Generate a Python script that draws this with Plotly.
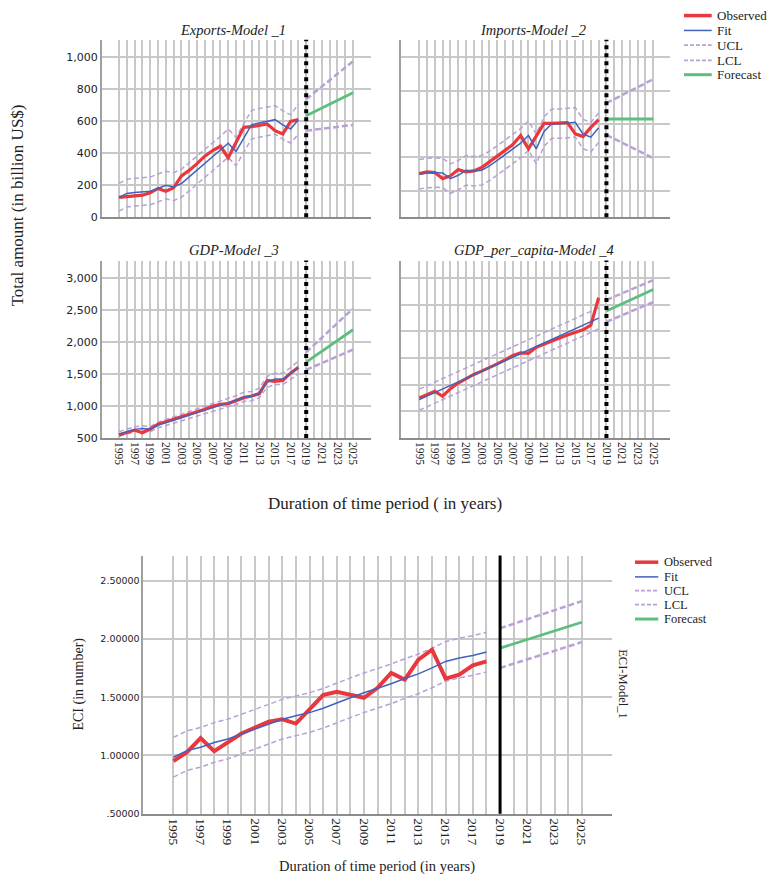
import plotly.graph_objects as go

# ---------------- data ----------------
YEARS_HIST = list(range(1995, 2019))
YEARS_FC = list(range(2019, 2026))
YEAR_TICKS = list(range(1995, 2026))
YEAR_TICK_TEXT = [str(y) if y % 2 == 1 else "" for y in YEAR_TICKS]
FORECAST_START = 2019

exports_obs = [124, 128, 132, 138, 153, 180, 163, 184, 258, 293, 335, 382, 417, 444, 372, 465, 562, 566, 572, 583, 541, 521, 599, 610]
exports_fit = [124, 149, 155, 159, 163, 180, 200, 190, 211, 252, 293, 339, 380, 417, 463, 411, 494, 579, 589, 599, 610, 577, 552, 610]
exports_ucl = [212, 237, 243, 247, 251, 270, 288, 279, 300, 341, 382, 428, 468, 506, 552, 500, 585, 668, 680, 690, 698, 665, 640, 706]
exports_lcl = [38, 64, 70, 74, 78, 95, 115, 104, 125, 165, 206, 252, 292, 328, 375, 322, 404, 490, 500, 510, 520, 488, 464, 520]
exports_fc = [634, 658, 682, 706, 731, 755, 779]
exports_fc_ucl = [738, 778, 817, 857, 896, 936, 975]
exports_fc_lcl = [541, 547, 553, 559, 565, 571, 577]

imports_obs = [303, 313, 309, 273, 289, 327, 313, 319, 339, 372, 406, 442, 477, 531, 451, 531, 604, 604, 604, 608, 541, 525, 580, 626]
imports_fit = [299, 307, 309, 307, 273, 293, 323, 317, 323, 349, 382, 418, 451, 485, 531, 451, 555, 602, 602, 606, 610, 540, 521, 578]
imports_ucl = [387, 395, 397, 395, 361, 381, 411, 405, 411, 437, 470, 506, 539, 573, 619, 539, 643, 690, 690, 694, 698, 628, 609, 666]
imports_lcl = [211, 219, 221, 219, 185, 205, 235, 229, 235, 261, 294, 330, 363, 397, 443, 363, 467, 514, 514, 518, 522, 452, 433, 490]
imports_fc = [630, 630, 630, 630, 630, 630, 630]
imports_fc_ucl = [725, 749, 773, 797, 820, 844, 868]
imports_fc_lcl = [535, 512, 489, 466, 442, 419, 396]

gdp_obs = [547, 588, 624, 583, 640, 717, 754, 790, 831, 867, 909, 950, 997, 1028, 1038, 1080, 1131, 1157, 1194, 1400, 1385, 1400, 1514, 1608]
gdp_fit = [562, 598, 635, 650, 635, 702, 738, 769, 816, 857, 893, 935, 976, 1012, 1049, 1090, 1142, 1152, 1204, 1375, 1421, 1421, 1504, 1597]
gdp_ucl = [599, 637, 676, 692, 676, 748, 786, 819, 869, 913, 951, 996, 1039, 1078, 1117, 1161, 1216, 1227, 1282, 1464, 1513, 1513, 1602, 1701]
gdp_lcl = [528, 562, 597, 611, 597, 660, 694, 723, 767, 806, 839, 879, 917, 951, 986, 1025, 1073, 1083, 1132, 1293, 1336, 1336, 1414, 1501]
gdp_fc = [1685, 1770, 1854, 1939, 2024, 2108, 2193]
gdp_fc_ucl = [1841, 1955, 2069, 2183, 2296, 2410, 2524]
gdp_fc_lcl = [1566, 1619, 1671, 1724, 1777, 1829, 1882]

gdppc_obs = [751, 819, 875, 782, 924, 1030, 1110, 1191, 1253, 1315, 1389, 1464, 1545, 1594, 1588, 1700, 1762, 1811, 1873, 1929, 1979, 2028, 2115, 2630]
gdppc_fit = [720, 787, 853, 919, 985, 1052, 1118, 1184, 1250, 1316, 1383, 1449, 1515, 1581, 1648, 1714, 1780, 1846, 1913, 1979, 2045, 2111, 2178, 2246]
gdppc_ucl = [915, 982, 1048, 1114, 1180, 1247, 1313, 1379, 1445, 1511, 1578, 1644, 1710, 1776, 1843, 1909, 1975, 2041, 2108, 2174, 2240, 2306, 2373, 2441]
gdppc_lcl = [520, 587, 653, 719, 785, 852, 918, 984, 1050, 1116, 1183, 1249, 1315, 1381, 1448, 1514, 1580, 1646, 1713, 1779, 1845, 1911, 1978, 2046]
gdppc_fc = [2382, 2449, 2516, 2583, 2651, 2718, 2785]
gdppc_fc_ucl = [2587, 2649, 2711, 2773, 2835, 2897, 2959]
gdppc_fc_lcl = [2177, 2239, 2301, 2363, 2425, 2487, 2549]

eci_obs = [0.951, 1.028, 1.149, 1.036, 1.112, 1.189, 1.240, 1.291, 1.311, 1.274, 1.396, 1.518, 1.546, 1.524, 1.495, 1.580, 1.708, 1.651, 1.822, 1.907, 1.660, 1.694, 1.773, 1.807]
eci_fit = [0.985, 1.042, 1.070, 1.112, 1.141, 1.183, 1.226, 1.268, 1.311, 1.340, 1.368, 1.405, 1.447, 1.495, 1.538, 1.575, 1.615, 1.660, 1.700, 1.751, 1.807, 1.836, 1.858, 1.887]
eci_ucl = [1.155, 1.212, 1.240, 1.282, 1.311, 1.353, 1.396, 1.438, 1.481, 1.510, 1.538, 1.575, 1.617, 1.665, 1.708, 1.745, 1.785, 1.830, 1.870, 1.921, 1.977, 2.006, 2.028, 2.057]
eci_lcl = [0.815, 0.872, 0.900, 0.942, 0.971, 1.013, 1.056, 1.098, 1.141, 1.170, 1.198, 1.235, 1.277, 1.325, 1.368, 1.405, 1.445, 1.490, 1.530, 1.581, 1.637, 1.666, 1.688, 1.717]
eci_fc = [1.921, 1.958, 1.995, 2.032, 2.069, 2.106, 2.143]
eci_fc_ucl = [2.091, 2.130, 2.169, 2.208, 2.246, 2.285, 2.324]
eci_fc_lcl = [1.751, 1.788, 1.825, 1.862, 1.898, 1.935, 1.972]

exports_yticks = [0, 200, 400, 600, 800, 1000]
imports_yticks = [200, 400, 600, 800, 1000]
gdp_yticks = [500, 1000, 1500, 2000, 2500, 3000]
gdppc_yticks = [500, 1000, 1500, 2000, 2500, 3000]
eci_yticks = [0.5, 1.0, 1.5, 2.0, 2.5]
eci_ytick_text = [".50000", "1.00000", "1.50000", "2.00000", "2.50000"]

LEGEND_NAMES = ["Observed", "Fit", "UCL", "LCL", "Forecast"]
PANEL_TITLES = ["Exports-Model _1", "Imports-Model _2", "GDP-Model _3", "GDP_per_capita-Model _4"]

# ---------------- style ----------------
W, H = 776, 881
RED = "#e8383d"
BLUE = "#4262bd"
LAV = "#b9a0d8"
GREEN = "#5cbf7e"
GRID = "#c8c8c8"
SERIF = "Liberation Serif"
SANS = "DejaVu Sans"


def px(x):
    return x / W


def py(y):
    return 1 - y / H


fig = go.Figure()

panels = [
    dict(ax="", obs=exports_obs, fit=exports_fit, ucl=exports_ucl, lcl=exports_lcl,
         fc=exports_fc, fcu=exports_fc_ucl, fcl=exports_fc_lcl),
    dict(ax="2", obs=imports_obs, fit=imports_fit, ucl=imports_ucl, lcl=imports_lcl,
         fc=imports_fc, fcu=imports_fc_ucl, fcl=imports_fc_lcl),
    dict(ax="3", obs=gdp_obs, fit=gdp_fit, ucl=gdp_ucl, lcl=gdp_lcl,
         fc=gdp_fc, fcu=gdp_fc_ucl, fcl=gdp_fc_lcl),
    dict(ax="4", obs=gdppc_obs, fit=gdppc_fit, ucl=gdppc_ucl, lcl=gdppc_lcl,
         fc=gdppc_fc, fcu=gdppc_fc_ucl, fcl=gdppc_fc_lcl),
    dict(ax="5", obs=eci_obs, fit=eci_fit, ucl=eci_ucl, lcl=eci_lcl,
         fc=eci_fc, fcu=eci_fc_ucl, fcl=eci_fc_lcl),
]

for i, p in enumerate(panels):
    xa, ya = "x" + p["ax"], "y" + p["ax"]
    big = i == 4
    fig.add_trace(go.Scatter(x=YEARS_HIST, y=p["ucl"], mode="lines", xaxis=xa, yaxis=ya,
                             line=dict(color=LAV, width=1.5, dash="5px,3px"), name="UCL"))
    fig.add_trace(go.Scatter(x=YEARS_HIST, y=p["lcl"], mode="lines", xaxis=xa, yaxis=ya,
                             line=dict(color=LAV, width=1.5, dash="5px,3px"), name="LCL"))
    fig.add_trace(go.Scatter(x=YEARS_FC, y=p["fcu"], mode="lines", xaxis=xa, yaxis=ya,
                             line=dict(color=LAV, width=2.5, dash="6px,3px"), name="UCL"))
    fig.add_trace(go.Scatter(x=YEARS_FC, y=p["fcl"], mode="lines", xaxis=xa, yaxis=ya,
                             line=dict(color=LAV, width=2.5, dash="6px,3px"), name="LCL"))
    fig.add_trace(go.Scatter(x=YEARS_HIST, y=p["obs"], mode="lines", xaxis=xa, yaxis=ya,
                             line=dict(color=RED, width=4 if big else 3.2), name="Observed"))
    fig.add_trace(go.Scatter(x=YEARS_HIST, y=p["fit"], mode="lines", xaxis=xa, yaxis=ya,
                             line=dict(color=BLUE, width=1.5), name="Fit"))
    fig.add_trace(go.Scatter(x=YEARS_FC, y=p["fc"], mode="lines", xaxis=xa, yaxis=ya,
                             line=dict(color=GREEN, width=2.8), name="Forecast"))


def xaxis_cfg(domain, rng, anchor, labels, size):
    return dict(domain=[px(domain[0]), px(domain[1])], range=rng, anchor=anchor,
                tickmode="array", tickvals=YEAR_TICKS, ticktext=YEAR_TICK_TEXT,
                showticklabels=labels, tickangle=90, ticks="",
                tickfont=dict(family=SERIF, size=size, color="#222"),
                showgrid=True, gridcolor=GRID, gridwidth=1.6,
                showline=True, linecolor="#8c8c8c", linewidth=1.5, zeroline=False)


def yaxis_cfg(domain, rng, anchor, tickvals, labels, size, ticktext=None):
    d = dict(domain=[py(domain[1]), py(domain[0])], range=rng, anchor=anchor,
             tickmode="array", tickvals=tickvals, showticklabels=labels, ticks="",
             tickformat=",", tickfont=dict(family=SANS, size=size, color="#222"),
             showgrid=True, gridcolor=GRID, gridwidth=1.6,
             showline=True, linecolor="#a0a0a0", linewidth=1.5, zeroline=False)
    if ticktext is not None:
        d["ticktext"] = ticktext
    return d


TL_X, TR_X = (101.7, 371.0), (401.3, 670.0)
TOP_Y, BOT_Y = (40.0, 219.0), (262.7, 441.5)
ECI_X, ECI_Y = (143.3, 611.7), (560.0, 820.3)

fig.update_layout(
    width=W, height=H, margin=dict(l=0, r=0, t=0, b=0),
    plot_bgcolor="white", paper_bgcolor="white", showlegend=False,
    font=dict(family=SERIF, color="#222"),
    xaxis=xaxis_cfg(TL_X, [1992.78, 2027.31], "y", False, 11.5),
    yaxis=yaxis_cfg(TOP_Y, [0, 1110], "x", exports_yticks, True, 11),
    xaxis2=xaxis_cfg(TR_X, [1992.7, 2027.15], "y2", False, 11.5),
    yaxis2=yaxis_cfg(TOP_Y, [41.6, 1105], "x2", imports_yticks, False, 11),
    xaxis3=xaxis_cfg(TL_X, [1992.78, 2027.31], "y3", True, 11.5),
    yaxis3=yaxis_cfg(BOT_Y, [500, 3274], "x3", gdp_yticks, True, 11),
    xaxis4=xaxis_cfg(TR_X, [1992.7, 2027.15], "y4", True, 11.5),
    yaxis4=yaxis_cfg(BOT_Y, [0, 3325], "x4", gdppc_yticks, False, 11),
    xaxis5=xaxis_cfg(ECI_X, [1992.79, 2027.2], "y5", True, 13.5),
    yaxis5=yaxis_cfg(ECI_Y, [0.5, 2.715], "x5", eci_yticks, True, 9.5, eci_ytick_text),
)

shapes = []
for ax in ["", "2", "3", "4"]:
    shapes.append(dict(type="line", xref="x" + ax, yref="y" + ax + " domain",
                       x0=FORECAST_START, x1=FORECAST_START, y0=0, y1=1,
                       line=dict(color="black", width=4, dash="dot")))
shapes.append(dict(type="line", xref="x5", yref="y5 domain", x0=FORECAST_START, x1=FORECAST_START,
                   y0=0, y1=1, line=dict(color="black", width=3)))

annotations = []


def note(text, cx, cy, size, angle=0, anchor="center"):
    annotations.append(dict(text=text, x=px(cx), y=py(cy), xref="paper", yref="paper",
                            showarrow=False, textangle=angle, xanchor=anchor, yanchor="middle",
                            font=dict(family=SERIF, size=size, color="#222")))


# panel titles
for text, cx, cy in zip(PANEL_TITLES, [233, 533, 234, 534], [30, 30, 252.5, 252.5]):
    note("<i>" + text + "</i>", cx, cy, 14.5)
# axis titles
note("Total amount (in billion US$)", 17, 207, 17, angle=-90)
note("Duration of time period ( in years)", 385, 508, 17)
note("Duration of time period (in years)", 377, 873, 14.5)
note("ECI (in number)", 79, 690, 14, angle=-90)
note("ECI-Model_1", 623.3, 689, 12.5, angle=90)

# manual legends
leg_styles = [dict(color=RED, width=3.5), dict(color=BLUE, width=1.5),
              dict(color=LAV, width=1.8, dash="4px,2px"), dict(color=LAV, width=1.8, dash="4px,2px"),
              dict(color=GREEN, width=3)]
for (lx0, lx1, tx, ys, fs) in [(684, 711.7, 714.5, [15.7, 30.7, 45.5, 60.8, 75.3], 13),
                               (635, 658.3, 661.5, [566.7, 581.5, 595.3, 609.5, 624], 12.5)]:
    for name, st, yy in zip(LEGEND_NAMES, leg_styles, ys):
        shapes.append(dict(type="line", xref="paper", yref="paper", x0=px(lx0), x1=px(lx1),
                           y0=py(yy), y1=py(yy), line=st))
        note(name, tx, yy, fs, anchor="left")

fig.update_layout(shapes=shapes, annotations=annotations)
fig.write_html("out.html", config={"displayModeBar": False},
               post_script="document.body.style.margin='0';document.body.style.overflow='hidden';")
